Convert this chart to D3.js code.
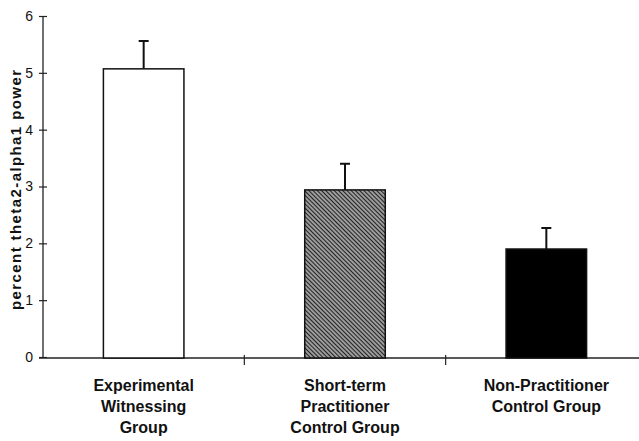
<!DOCTYPE html>
<html>
<head>
<meta charset="utf-8">
<script src="https://cdn.jsdelivr.net/npm/d3@7"></script>
<style>
  body { margin: 0; background: #fff; }
  text { font-family: "Liberation Sans", Arial, sans-serif; fill: #111; }
</style>
</head>
<body>
<svg id="chart" width="639" height="441"></svg>
<script>
// data
var groups = ["Experimental Witnessing Group", "Short-term Practitioner Control Group", "Non-Practitioner Control Group"];
var groupLines = [["Experimental", "Witnessing", "Group"], ["Short-term", "Practitioner", "Control Group"], ["Non-Practitioner", "Control Group"]];
var means = [5.07, 2.94, 1.90];
var errors = [0.49, 0.46, 0.37];
var yTicks = [0, 1, 2, 3, 4, 5, 6];

var svg = d3.select("#chart"),
    margin = {top: 16, right: -8, bottom: 84, left: 43},
    width = +svg.attr("width") - margin.left - margin.right,
    height = +svg.attr("height") - margin.top - margin.bottom;

var data = groups.map(function(g, i) {
    return {group: g, lines: groupLines[i], mean: means[i], err: errors[i]};
});

// diagonal hatch for the middle bar (lines running top-left to bottom-right)
var defs = svg.append("defs");
var pat = defs.append("pattern")
    .attr("id", "hatch")
    .attr("patternUnits", "userSpaceOnUse")
    .attr("width", 3)
    .attr("height", 3)
    .attr("patternTransform", "rotate(45)");
pat.append("rect").attr("width", 3).attr("height", 3).attr("fill", "#fff");
pat.append("line")
    .attr("x1", 0).attr("y1", 1.5).attr("x2", 3).attr("y2", 1.5)
    .attr("stroke", "#222").attr("stroke-width", 1.9);

var fill = d3.scaleOrdinal()
    .domain(groups)
    .range(["#fff", "url(#hatch)", "#000"]);

var g = svg.append("g")
    .attr("transform", "translate(" + margin.left + "," + margin.top + ")");

var x = d3.scaleBand().domain(groups).range([0, width]).padding(0);
var y = d3.scaleLinear().domain([0, 6]).range([height, 0]);
var barW = x.bandwidth() * 0.4;

// y axis
var yAxis = g.append("g")
    .call(d3.axisLeft(y).tickValues(yTicks).tickSize(4).tickPadding(6).tickFormat(d3.format("d")));
yAxis.select(".domain").attr("stroke", "#222").attr("stroke-width", 1.3).attr("d", "M0," + height + "V0");
yAxis.selectAll(".tick line").attr("x2", -4).attr("x1", 4).attr("stroke", "#222").attr("stroke-width", 1.2);
yAxis.selectAll(".tick text")
    .style("font-size", "14px")
    .attr("fill", "#111");

// x axis
g.append("line")
    .attr("x1", -4).attr("x2", width)
    .attr("y1", height + 1).attr("y2", height + 1)
    .attr("stroke", "#222").attr("stroke-width", 1.3);

g.selectAll(".xtick")
    .data(groups.slice(1))
    .enter().append("line")
    .attr("class", "xtick")
    .attr("x1", d => x(d)).attr("x2", d => x(d))
    .attr("y1", height - 2).attr("y2", height + 8)
    .attr("stroke", "#222").attr("stroke-width", 1.2);

// bars
g.selectAll(".bar")
    .data(data)
    .enter().append("rect")
    .attr("class", "bar")
    .attr("x", d => x(d.group) + (x.bandwidth() - barW) / 2)
    .attr("y", d => y(d.mean))
    .attr("width", barW)
    .attr("height", d => height + 1 - y(d.mean))
    .attr("fill", d => fill(d.group))
    .attr("stroke", "#111")
    .attr("stroke-width", 1.5);

// error bars (upper only)
g.selectAll(".err")
    .data(data)
    .enter().append("line")
    .attr("class", "err")
    .attr("x1", d => x(d.group) + x.bandwidth() / 2)
    .attr("x2", d => x(d.group) + x.bandwidth() / 2)
    .attr("y1", d => y(d.mean))
    .attr("y2", d => y(d.mean + d.err))
    .attr("stroke", "#111")
    .attr("stroke-width", 2);

g.selectAll(".cap")
    .data(data)
    .enter().append("line")
    .attr("class", "cap")
    .attr("x1", d => x(d.group) + x.bandwidth() / 2 - 5)
    .attr("x2", d => x(d.group) + x.bandwidth() / 2 + 5)
    .attr("y1", d => y(d.mean + d.err))
    .attr("y2", d => y(d.mean + d.err))
    .attr("stroke", "#111")
    .attr("stroke-width", 2);

// category labels
var labels = g.selectAll(".cat")
    .data(data)
    .enter().append("text")
    .attr("class", "cat")
    .attr("text-anchor", "middle")
    .style("font-size", "16px")
    .style("font-weight", "bold")
    .attr("transform", d => "translate(" + (x(d.group) + x.bandwidth() / 2) + "," + (height + 34) + ")");

labels.selectAll("tspan")
    .data(d => d.lines)
    .enter().append("tspan")
    .attr("x", 0)
    .attr("dy", (d, i) => i === 0 ? 0 : 21)
    .text(d => d);

// y label
g.append("text")
    .attr("transform", "rotate(-90)")
    .attr("x", -174)
    .attr("y", -22)
    .attr("text-anchor", "middle")
    .style("font-size", "15px")
    .style("font-weight", "bold")
    .attr("textLength", 240)
    .attr("lengthAdjust", "spacing")
    .text("percent  theta2-alpha1  power");
</script>
</body>
</html>
